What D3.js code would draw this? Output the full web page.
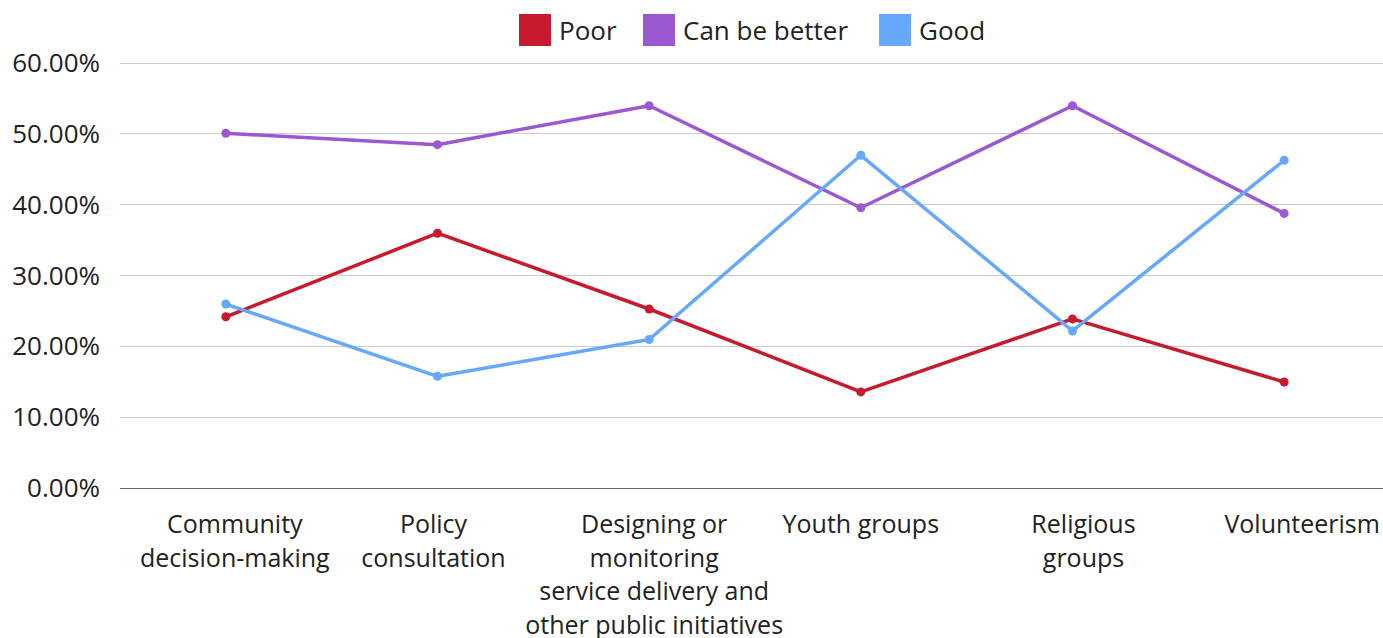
<!DOCTYPE html>
<html>
<head>
<meta charset="utf-8">
<script src="https://cdn.jsdelivr.net/npm/d3@7"></script>
<style>
body { margin:0; background:#fff; }
text { font-family:"Open Sans", sans-serif; fill:#222; }
</style>
</head>
<body>
<div id="chart"></div>
<script>
var categories = [
	["Community", "decision-making"],
	["Policy", "consultation"],
	["Designing or", "monitoring", "service delivery and", "other public initiatives"],
	["Youth groups"],
	["Religious", "groups"],
	["Volunteerism"]
]
var seriesNames = ["Poor", "Can be better", "Good"]
var seriesColors = ["#c61a2e", "#9c58d0", "#66a8fb"]
var poor = [24.1, 35.9, 25.2, 13.5, 23.8, 14.9]
var canBeBetter = [50.0, 48.4, 53.9, 39.5, 53.9, 38.7]
var good = [25.9, 15.7, 20.9, 46.9, 22.1, 46.2]
var yTicks = [0, 10, 20, 30, 40, 50, 60]

var width = 1383, height = 638
// small nudges so wrapped labels sit like the original layout
var labelNudge = [9, -4, 5, 0, 11, 18]

var svg = d3.select("#chart").append("svg").attr("width", width).attr("height", height)

var x = d3.scaleBand().domain(d3.range(categories.length)).range([120, 1390])
var y = d3.scaleLinear().domain([0, 60]).range([487.5, 62.5])
function cx(i){ return x(i) + x.bandwidth() / 2 }

// grid
svg.append("g").selectAll("line").data(yTicks).enter().append("line")
	.attr("x1", 120).attr("x2", width)
	.attr("y1", function(d){ return Math.round(y(d)) + 0.5 })
	.attr("y2", function(d){ return Math.round(y(d)) + 0.5 })
	.attr("stroke", function(d){ return d === 0 ? "#666" : "#ccc" })
	.attr("stroke-width", 1)

// y labels
svg.append("g").selectAll("text").data(yTicks).enter().append("text")
	.attr("x", 100).attr("y", function(d){ return y(d) + 9.5 })
	.attr("text-anchor", "end").attr("font-size", 26)
	.text(function(d){ return d.toFixed(2) + "%" })

// x labels
var xl = svg.append("g").selectAll("text").data(categories).enter().append("text")
	.attr("text-anchor", "middle").attr("font-size", 25)
	.attr("x", function(d, i){ return cx(i) + labelNudge[i] })
	.attr("y", 533)
xl.selectAll("tspan").data(function(d){ return d }).enter().append("tspan")
	.attr("x", function(){ return this.parentNode.getAttribute("x") })
	.attr("dy", function(d, i){ return i ? 33.7 : 0 })
	.text(function(d){ return d })

// lines
var series = [poor, canBeBetter, good]
var line = d3.line()
	.x(function(d, i){ return cx(i) })
	.y(function(d){ return y(d) })
series.forEach(function(s, k){
	svg.append("path").datum(s)
		.attr("d", line).attr("fill", "none")
		.attr("stroke", seriesColors[k]).attr("stroke-width", 3.5)
		.attr("stroke-linejoin", "round")
	svg.append("g").selectAll("circle").data(s).enter().append("circle")
		.attr("cx", function(d, i){ return cx(i) })
		.attr("cy", function(d){ return y(d) })
		.attr("r", 4.5).attr("fill", seriesColors[k])
})

// legend
var legendX = [519, 643, 879]
var legend = svg.append("g").selectAll("g").data(seriesNames).enter().append("g")
	.attr("transform", function(d, i){ return "translate(" + legendX[i] + ",14)" })
legend.append("rect").attr("width", 32).attr("height", 32)
	.attr("fill", function(d, i){ return seriesColors[i] })
legend.append("text").attr("x", 40).attr("y", 26).attr("font-size", 26)
	.text(function(d){ return d })
</script>
</body>
</html>
